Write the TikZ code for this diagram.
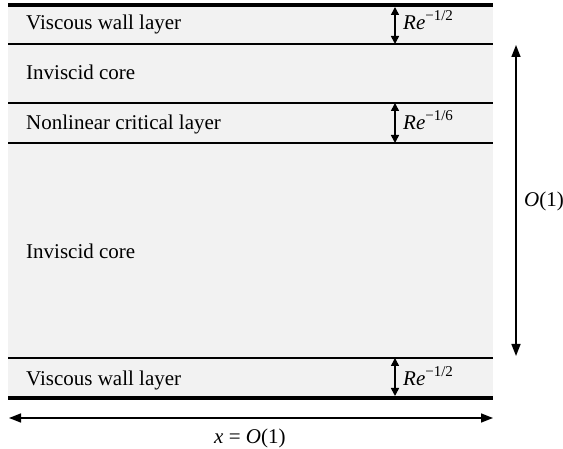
\documentclass[tikz,border=0pt]{standalone}
\usepackage{fontspec}
\setmainfont{Liberation Serif}
\usetikzlibrary{arrows.meta}
\definecolor{layerfill}{RGB}{242,242,242}
\newcommand{\Rexp}[1]{\textit{Re}\raisebox{0.45em}{\fontsize{15}{17}\selectfont −#1}}
\begin{document}
\begin{tikzpicture}[x=1pt,y=-1pt,
  lbl/.style={anchor=base west,inner sep=0pt,font=\fontsize{21}{25}\selectfont},
  thinline/.style={line width=1.6pt},
  wall/.style={line width=3.8pt},
  smallarr/.style={line width=1.6pt,{Triangle[length=8pt,width=8pt]}-{Triangle[length=8pt,width=8pt]}},
  bigarr/.style={line width=1.6pt,{Triangle[length=12pt,width=9pt]}-{Triangle[length=12pt,width=9pt]}}]
\useasboundingbox (0,0) rectangle (563,449);
\fill[layerfill] (8,5) rectangle (493,398);
% layer boundaries
\coordinate (tl) at (8,5);   \coordinate (tr) at (493,5);
\coordinate (l1) at (8,44);  \coordinate (r1) at (493,44);
\coordinate (l2) at (8,103); \coordinate (r2) at (493,103);
\coordinate (l3) at (8,143); \coordinate (r3) at (493,143);
\coordinate (l4) at (8,358); \coordinate (r4) at (493,358);
\coordinate (bl) at (8,398); \coordinate (br) at (493,398);
\draw[wall] (tl) -- (tr);
\draw[thinline] (l1) -- (r1);
\draw[thinline] (l2) -- (r2);
\draw[thinline] (l3) -- (r3);
\draw[thinline] (l4) -- (r4);
\draw[wall] (bl) -- (br);
% labels
\node[lbl] (t1) at (26,30) {Viscous wall layer};
\node[lbl] (t2) at (26,80) {Inviscid core};
\node[lbl] (t3) at (26,130) {Nonlinear critical layer};
\node[lbl] (t4) at (26,259) {Inviscid core};
\node[lbl] (t5) at (26,386) {Viscous wall layer};
% thickness arrows
\coordinate (a1t) at (395,7);   \coordinate (a1b) at (395,44);
\coordinate (a2t) at (395,103); \coordinate (a2b) at (395,143);
\coordinate (a3t) at (395,358); \coordinate (a3b) at (395,396);
\draw[smallarr] (a1t) -- (a1b);
\draw[smallarr] (a2t) -- (a2b);
\draw[smallarr] (a3t) -- (a3b);
\node[lbl] (r1l) at (403,30) {\Rexp{1/2}};
\node[lbl] (r2l) at (403,130) {\Rexp{1/6}};
\node[lbl] (r3l) at (403,386) {\Rexp{1/2}};
% O(1) vertical
\coordinate (vt) at (516,45); \coordinate (vb) at (516,356);
\draw[bigarr] (vt) -- (vb);
\node[lbl] (o1) at (524,207) {\textit{O}(1)};
% x = O(1) horizontal
\coordinate (hl) at (9,418); \coordinate (hr) at (493,418);
\draw[bigarr] (hl) -- (hr);
\node[lbl] (xo) at (214,443) {\textit{x} = \textit{O}(1)};
\end{tikzpicture}
\end{document}
